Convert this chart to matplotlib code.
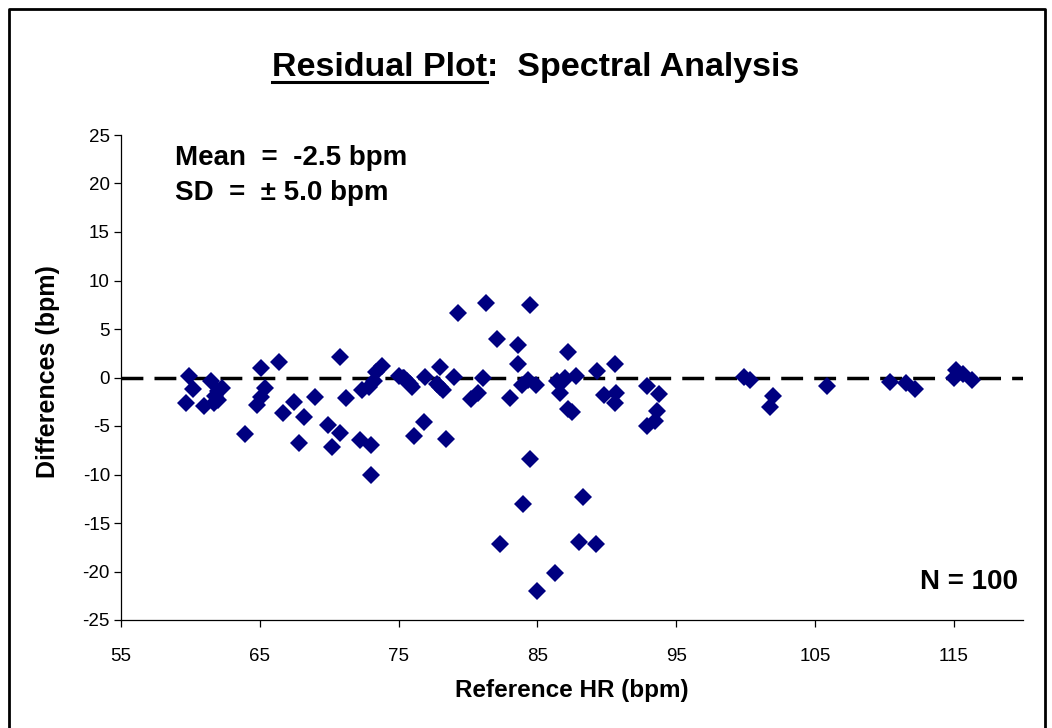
import matplotlib
matplotlib.use('Agg')
import matplotlib.pyplot as plt
from matplotlib.lines import Line2D

plt.rcParams['font.family'] = ['Liberation Sans', 'DejaVu Sans']
plt.rcParams['axes.unicode_minus'] = False

# Reference heart rate (bpm)
ref_hr = [59.7, 59.9, 60.2, 61.0, 61.5, 61.7, 61.8, 62.3, 62.0, 62.0,
          63.9, 64.8, 65.1, 65.1, 65.4, 66.4, 66.7, 67.5, 67.8, 68.2,
          69.0, 69.9, 70.2, 70.8, 70.8, 71.2, 72.2, 72.35, 72.9, 73.0,
          73.0, 73.2, 73.4, 73.8, 75.0, 75.3, 75.4, 75.6, 75.8, 76.0,
          76.1, 76.8, 76.9, 77.8, 78.0, 78.0, 78.2, 78.4, 79.0, 79.3,
          80.2, 80.7, 81.1, 81.3, 82.1, 82.3, 83.0, 83.6, 83.6, 83.9,
          84.0, 84.3, 84.5, 84.5, 84.9, 85.0, 86.3, 86.4, 86.6, 86.9,
          87.0, 87.2, 87.2, 87.5, 87.8, 88.0, 88.3, 89.2, 89.3, 89.8,
          90.6, 90.7, 90.6, 92.9, 92.9, 93.5, 93.6, 93.8, 99.9, 100.3,
          101.8, 102.0, 105.9, 110.4, 111.6, 112.2, 115.0, 115.2, 115.7, 116.3]

# Differences (bpm)
differences = [-2.6, 0.2, -1.2, -2.9, -0.4, -2.6, -1.9, -1.1, -1.4, -2.3,
               -5.8, -2.8, -2.0, 1.0, -1.1, 1.6, -3.7, -2.5, -6.8, -4.1,
               -2.0, -4.9, -7.2, -5.7, 2.1, -2.1, -6.4, -1.3, -1.0, -7.0,
               -10.0, -0.4, 0.6, 1.2, 0.2, 0.0, -0.1, -0.4, -0.7, -1.0,
               -6.0, -4.6, 0.1, -0.7, 1.1, -1.0, -1.3, -6.3, 0.1, 6.7,
               -2.2, -1.6, -0.1, 7.7, 4.0, -17.2, -2.1, 3.4, 1.4, -0.8,
               -13.0, -0.3, -8.4, 7.5, -0.8, -22.0, -20.2, -0.4, -1.6, -0.3,
               -0.1, 2.6, -3.2, -3.6, 0.2, -17.0, -12.3, -17.2, 0.7, -1.8,
               1.4, -1.6, -2.6, -0.9, -5.0, -4.5, -3.5, -1.7, 0.1, -0.3,
               -3.0, -1.9, -0.9, -0.5, -0.6, -1.2, -0.1, 0.8, 0.4, -0.3]

x_ticks = [55, 65, 75, 85, 95, 105, 115]
y_ticks = [-25, -20, -15, -10, -5, 0, 5, 10, 15, 20, 25]

title_main = "Residual Plot"
title_rest = ":  Spectral Analysis"
mean_text = "Mean  =  -2.5 bpm"
sd_text = "SD  =  \u00b1 5.0 bpm"
n_text = "N = 100"

W, H = 1052, 728
fig = plt.figure(figsize=(W / 100, H / 100), dpi=100)
fig.patch.set_facecolor('white')

ax = fig.add_axes([121 / W, 1 - 620 / H, (1023 - 121) / W, (620 - 135) / H])
ax.axhline(0, color='black', lw=2.5, dashes=(6.3, 3.2), zorder=2)
ax.plot(ref_hr, differences, linestyle='none', marker='D', markersize=8.8,
        color='#000080', markeredgewidth=0, zorder=3)
ax.set_xlim(55, 120)
ax.set_ylim(-25, 25)
ax.set_xticks(x_ticks)
ax.set_yticks(y_ticks)
ax.spines['top'].set_visible(False)
ax.spines['right'].set_visible(False)
for s in ('left', 'bottom'):
    ax.spines[s].set_linewidth(0.9)
    ax.spines[s].set_color('black')
ax.tick_params(axis='both', direction='out', length=5, width=0.9,
               labelsize=13.5, colors='black')
ax.tick_params(axis='y', pad=3)
ax.tick_params(axis='x', pad=15)

fig.text(48 / W, 1 - 372 / H, "Differences (bpm)", rotation=90,
         ha='center', va='center', fontsize=18, fontweight='bold')
fig.text(572 / W, 1 - 690 / H, "Reference HR (bpm)",
         ha='center', va='center', fontsize=17.5, fontweight='bold')

fig.text(175 / W, 1 - 165 / H, mean_text, ha='left', va='baseline',
         fontsize=20, fontweight='bold')
fig.text(175 / W, 1 - 200 / H, sd_text, ha='left', va='baseline',
         fontsize=20, fontweight='bold')
fig.text(1018 / W, 1 - 589 / H, n_text, ha='right', va='baseline',
         fontsize=20, fontweight='bold')

# Title with underlined first part
fig.canvas.draw()
renderer = fig.canvas.get_renderer()
t1 = fig.text(0, 1 - 76 / H, title_main, ha='left', va='baseline',
              fontsize=24.5, fontweight='bold')
t2 = fig.text(0, 1 - 76 / H, title_rest, ha='left', va='baseline',
              fontsize=24.5, fontweight='bold')
w1 = t1.get_window_extent(renderer).width
w2 = t2.get_window_extent(renderer).width
x0 = 536 - (w1 + w2) / 2
t1.set_x(x0 / W)
t2.set_x((x0 + w1) / W)
fig.add_artist(Line2D([x0 / W, (x0 + w1) / W], [1 - 82 / H, 1 - 82 / H],
                      color='black', lw=2.2, transform=fig.transFigure))

# Outer chart border
bx0, bx1, by1 = 9 / W, 1045 / W, 1 - 9 / H
fig.add_artist(Line2D([bx0, bx0, bx1, bx1], [-0.01, by1, by1, -0.01],
                      color='black', lw=2, transform=fig.transFigure))

fig.savefig('out.png', dpi=100, facecolor='white')
